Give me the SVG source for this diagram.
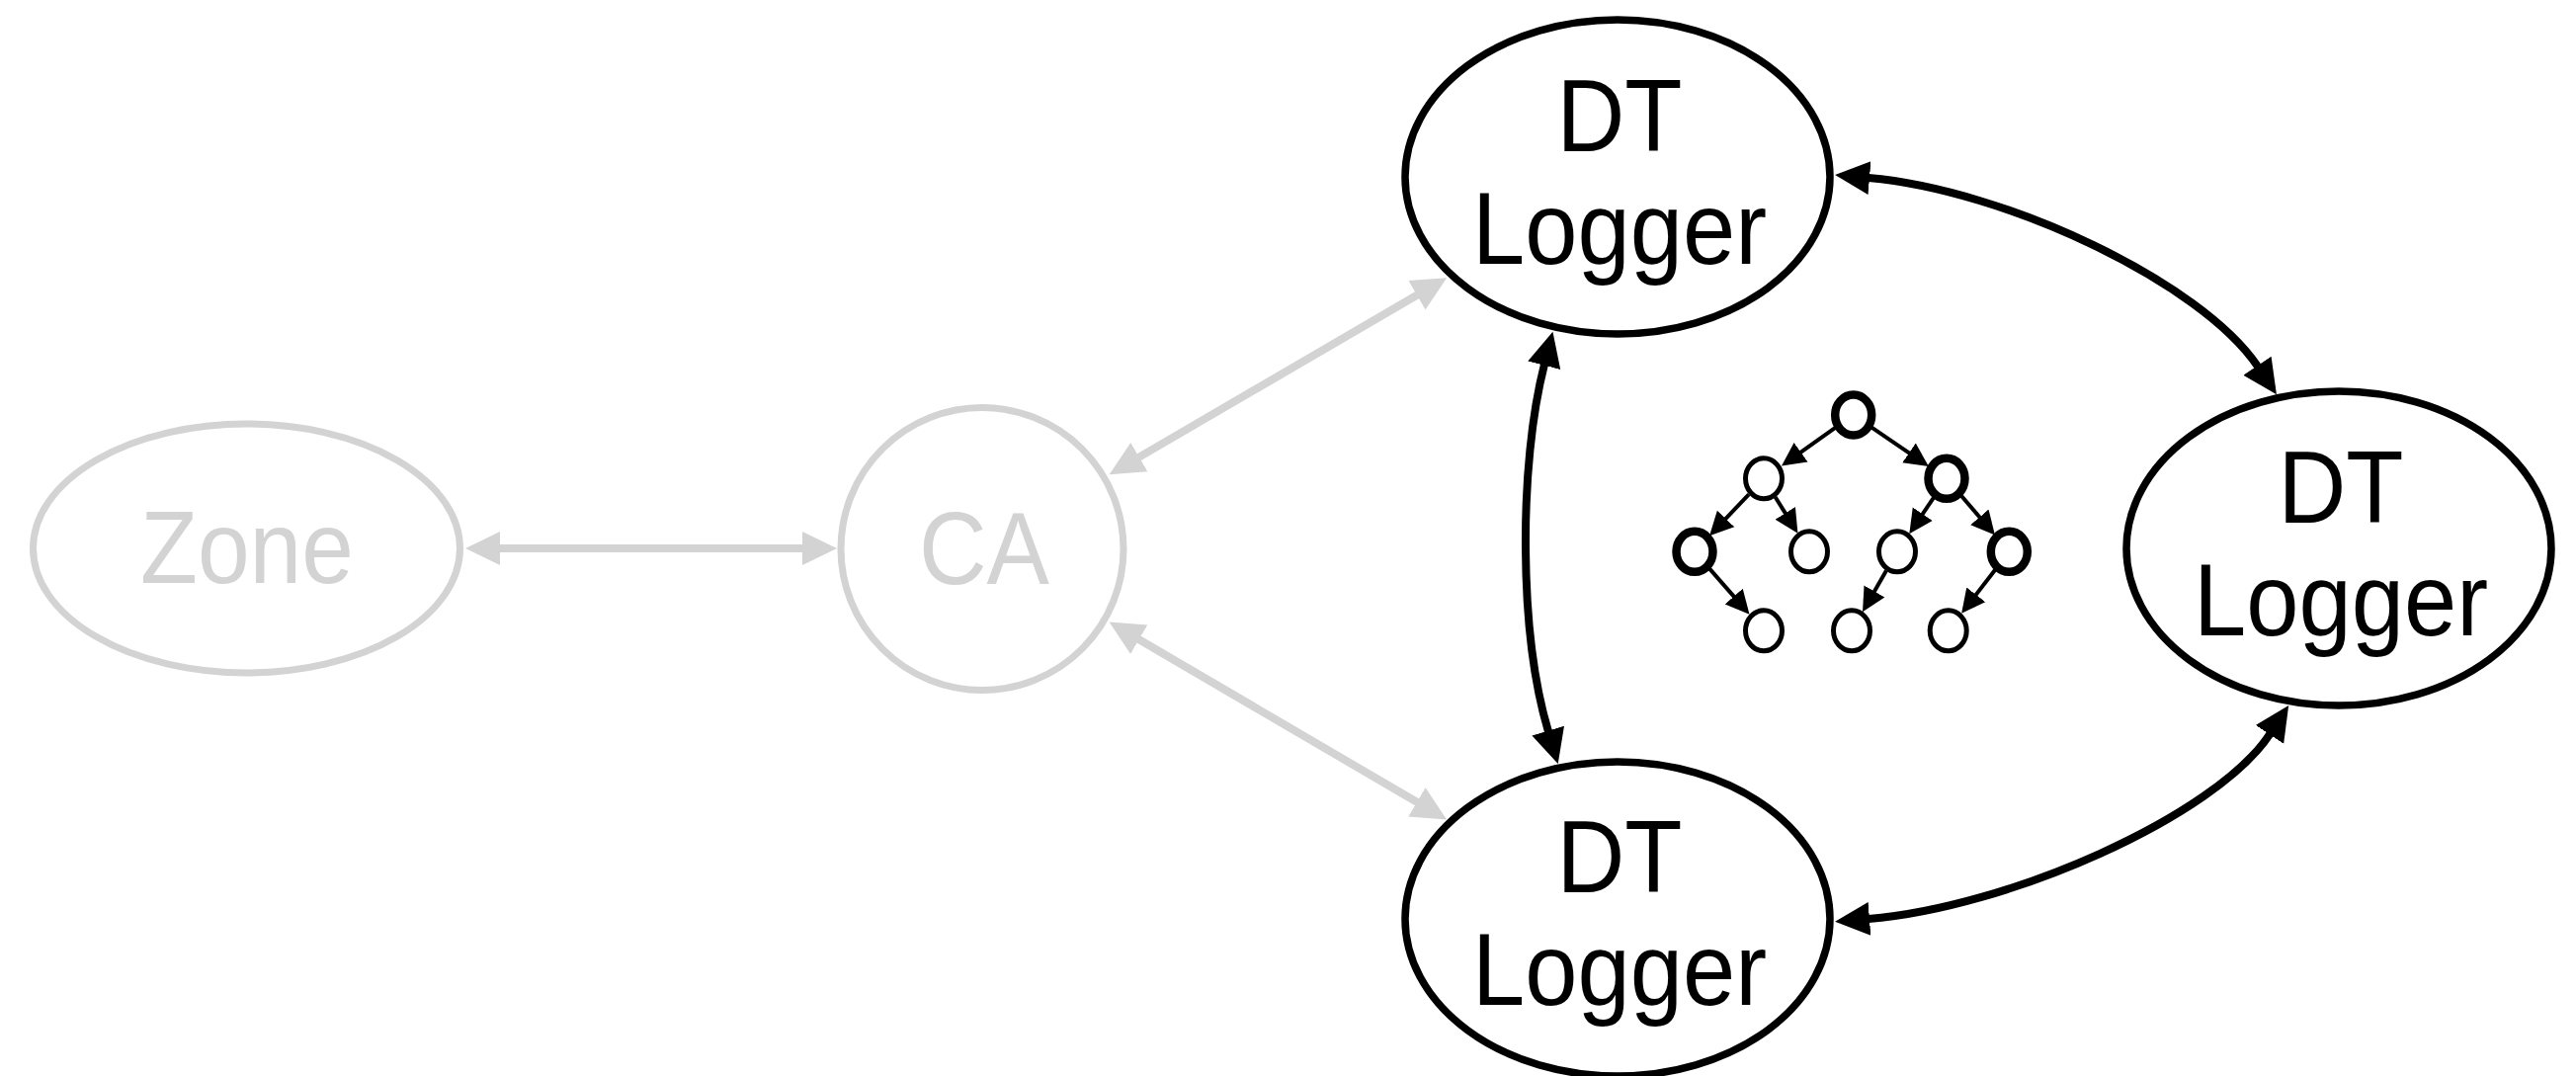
<svg xmlns="http://www.w3.org/2000/svg" width="2607" height="1089" viewBox="0 0 2607 1089">
  <style>
    .node-grey { fill: #ffffff; stroke: #d3d3d3; stroke-width: 7; }
    .node-black { fill: #ffffff; stroke: #000000; stroke-width: 7.5; }
    .label { font-family: "Liberation Sans", Arial, sans-serif; font-size: 103px; text-anchor: middle; }
    .label-grey { fill: #d3d3d3; }
    .label-black { fill: #000000; }
    .edge-grey { fill: none; stroke: #d3d3d3; stroke-width: 8; }
    .edge-black { fill: none; stroke: #000000; stroke-width: 8; }
    .tree-node { fill: #ffffff; stroke: #000000; stroke-width: 5; }
    .tree-node.bold { stroke-width: 8.5; }
    .tree-edge { stroke: #000000; stroke-width: 4; }
  </style>
  <defs>
    <marker id="arrow-grey" markerUnits="userSpaceOnUse" markerWidth="40" markerHeight="40" viewBox="0 -20 40 40" refX="1" refY="0" orient="auto-start-reverse">
      <path d="M0,-17 L35,0 L0,17 z" fill="#d3d3d3"/>
    </marker>
    <marker id="arrow-black" markerUnits="userSpaceOnUse" markerWidth="40" markerHeight="40" viewBox="0 -20 40 40" refX="1" refY="0" orient="auto-start-reverse">
      <path d="M0,-17 L35,0 L0,17 z" fill="#000000"/>
    </marker>
    <marker id="arrow-tree" markerUnits="userSpaceOnUse" markerWidth="30" markerHeight="30" viewBox="0 -15 30 30" refX="19" refY="0" orient="auto">
      <path d="M0,-12 L24,0 L0,12 z" fill="#000000"/>
    </marker>
  </defs>

  <rect width="2607" height="1089" fill="#ffffff"/>

  <!-- connectors -->
  <g id="connectors">
    <line class="edge-grey" x1="505" y1="555" x2="813" y2="555" marker-start="url(#arrow-grey)" marker-end="url(#arrow-grey)"/>
    <line class="edge-grey" x1="1152" y1="463.1" x2="1434.8" y2="298.3" marker-start="url(#arrow-grey)" marker-end="url(#arrow-grey)"/>
    <line class="edge-grey" x1="1151.9" y1="646.7" x2="1434.8" y2="812.3" marker-start="url(#arrow-grey)" marker-end="url(#arrow-grey)"/>
    <path class="edge-black" d="M1563,368.8 C1537,470 1537,640 1567,740.5" marker-start="url(#arrow-black)" marker-end="url(#arrow-black)"/>
    <path class="edge-black" d="M1891,180 C2030,192 2228,286 2285,371" marker-start="url(#arrow-black)" marker-end="url(#arrow-black)"/>
    <path class="edge-black" d="M1891,930 C2030,919 2242,827 2297.5,742.5" marker-start="url(#arrow-black)" marker-end="url(#arrow-black)"/>
  </g>

  <!-- nodes -->
  <g id="zone">
    <ellipse class="node-grey" cx="249.5" cy="555" rx="216" ry="126"/>
    <text class="label label-grey" x="250" y="590" textLength="216" lengthAdjust="spacingAndGlyphs">Zone</text>
  </g>
  <g id="ca">
    <circle class="node-grey" cx="994" cy="555.5" r="143"/>
    <text class="label label-grey" x="996" y="591" textLength="132" lengthAdjust="spacingAndGlyphs">CA</text>
  </g>
  <g id="logger-top">
    <ellipse class="node-black" cx="1637" cy="179" rx="215" ry="159"/>
    <text class="label label-black" x="1639" y="153" textLength="127" lengthAdjust="spacingAndGlyphs">DT</text>
    <text class="label label-black" x="1639" y="267" textLength="298" lengthAdjust="spacingAndGlyphs">Logger</text>
  </g>
  <g id="logger-right">
    <ellipse class="node-black" cx="2367" cy="555" rx="215" ry="159"/>
    <text class="label label-black" x="2369" y="529" textLength="127" lengthAdjust="spacingAndGlyphs">DT</text>
    <text class="label label-black" x="2369" y="643" textLength="298" lengthAdjust="spacingAndGlyphs">Logger</text>
  </g>
  <g id="logger-bottom">
    <ellipse class="node-black" cx="1637" cy="930" rx="215" ry="159"/>
    <text class="label label-black" x="1639" y="903" textLength="127" lengthAdjust="spacingAndGlyphs">DT</text>
    <text class="label label-black" x="1639" y="1017" textLength="298" lengthAdjust="spacingAndGlyphs">Logger</text>
  </g>

  <!-- small tree icon -->
  <g id="tree-icon">
    <g class="tree-edges">
      <line class="tree-edge" x1="1857.7" y1="432.7" x2="1807.1" y2="468.7" marker-end="url(#arrow-tree)"/>
      <line class="tree-edge" x1="1893.9" y1="432.4" x2="1947.7" y2="469.1" marker-end="url(#arrow-tree)"/>
      <line class="tree-edge" x1="1769.9" y1="500.3" x2="1733.5" y2="538.7" marker-end="url(#arrow-tree)"/>
      <line class="tree-edge" x1="1796.6" y1="503" x2="1816.8" y2="535.4" marker-end="url(#arrow-tree)"/>
      <line class="tree-edge" x1="1957.7" y1="502.5" x2="1935.1" y2="536" marker-end="url(#arrow-tree)"/>
      <line class="tree-edge" x1="1984.3" y1="501" x2="2015.7" y2="537.8" marker-end="url(#arrow-tree)"/>
      <line class="tree-edge" x1="1729.5" y1="574.9" x2="1767.2" y2="617.9" marker-end="url(#arrow-tree)"/>
      <line class="tree-edge" x1="1909" y1="577.4" x2="1887.5" y2="614.9" marker-end="url(#arrow-tree)"/>
      <line class="tree-edge" x1="2019.9" y1="575.7" x2="1988.2" y2="616.9" marker-end="url(#arrow-tree)"/>
    </g>
    <ellipse class="tree-node bold" cx="1875.7" cy="420" rx="18.5" ry="20.5"/>
    <ellipse class="tree-node" cx="1785" cy="484.3" rx="18.5" ry="20.5"/>
    <ellipse class="tree-node bold" cx="1970" cy="484.3" rx="18.5" ry="20.5"/>
    <ellipse class="tree-node bold" cx="1715" cy="558.3" rx="18.5" ry="20.5"/>
    <ellipse class="tree-node" cx="1831" cy="558.3" rx="18.5" ry="20.5"/>
    <ellipse class="tree-node" cx="1920" cy="558.3" rx="18.5" ry="20.5"/>
    <ellipse class="tree-node bold" cx="2033.3" cy="558.3" rx="18.5" ry="20.5"/>
    <ellipse class="tree-node" cx="1785" cy="638.3" rx="18.5" ry="20.5"/>
    <ellipse class="tree-node" cx="1874" cy="638.3" rx="18.5" ry="20.5"/>
    <ellipse class="tree-node" cx="1971.7" cy="638.3" rx="18.5" ry="20.5"/>
  </g>
</svg>
